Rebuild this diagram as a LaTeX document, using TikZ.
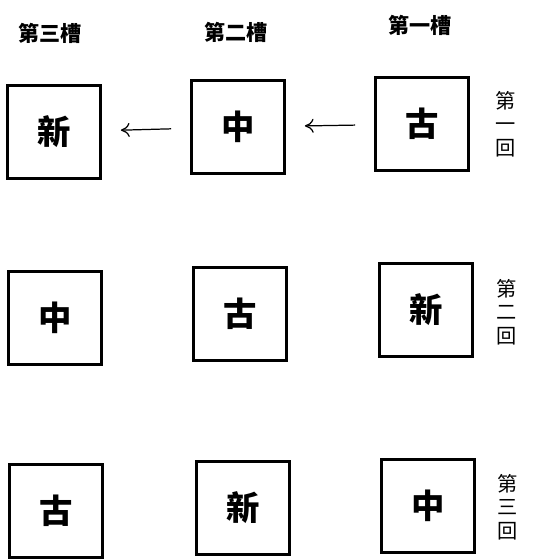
\documentclass[tikz,border=0pt]{standalone}
\usepackage{fontspec}
\setmainfont{Noto Sans CJK TC}
\usetikzlibrary{positioning,arrows.meta}

\tikzset{
  cao/.style={draw,line width=1.2pt,minimum size=1.86cm,inner sep=0pt,font=\fontsize{19}{19}\selectfont\bfseries},
  head/.style={font=\fontsize{12}{12}\selectfont\bfseries},
  hui/.style={font=\fontsize{11.5}{13.5}\selectfont,align=center,inner sep=0pt},
  move/.style={-{To[length=5pt,width=8pt]},line width=0.7pt,shorten <=11pt,shorten >=11pt}
}

\begin{document}
\begin{tikzpicture}[x=0.02cm,y=-0.02cm]
  \useasboundingbox (0,0) rectangle (540,559);
  % headers
  \node[head] (h3) at (50,33) {第三槽};
  \node[head] (h2) at (236,32) {第二槽};
  \node[head] (h1) at (420,25) {第一槽};
  % first round
  \node[cao] (a3) at (54,132) {新};
  \node[cao] (a2) at (238,127) {中};
  \node[cao] (a1) at (422,124) {古};
  \node[hui] (r1) at (506,124) {第\\一\\回};
  \draw[move] (a1) -- (a2);
  \draw[move] (a2) -- (a3);
  % second round
  \node[cao] (b3) at (55,318) {中};
  \node[cao] (b2) at (240,314) {古};
  \node[cao] (b1) at (426,310) {新};
  \node[hui] (r2) at (507,312) {第\\二\\回};
  % third round
  \node[cao] (c3) at (56,511) {古};
  \node[cao] (c2) at (243,508) {新};
  \node[cao] (c1) at (428,506) {中};
  \node[hui] (r3) at (508,507) {第\\三\\回};
\end{tikzpicture}
\end{document}
